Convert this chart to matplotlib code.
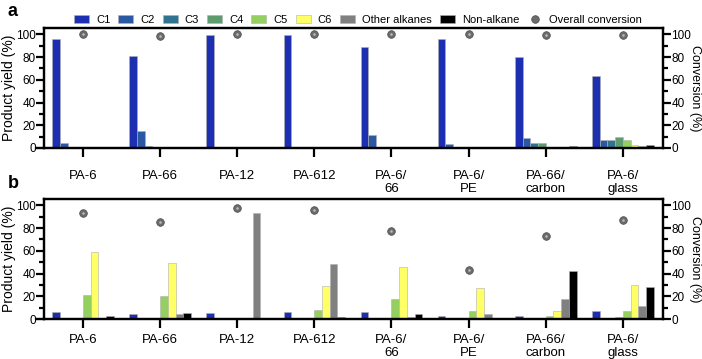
import numpy as np
import matplotlib
matplotlib.use('Agg')
import matplotlib.pyplot as plt
from matplotlib.ticker import MultipleLocator

plt.rcParams['font.family'] = ['Liberation Sans', 'DejaVu Sans']
plt.rcParams['font.size'] = 9

samples = ['PA-6', 'PA-66', 'PA-12', 'PA-612', 'PA-6/\n66', 'PA-6/\nPE', 'PA-66/\ncarbon', 'PA-6/\nglass']
products = ['C1', 'C2', 'C3', 'C4', 'C5', 'C6', 'Other alkanes', 'Non-alkane']
colors = ['#1b2fb0', '#2b58a3', '#2f7390', '#5e9c70', '#93d05f', '#ffff66', '#808080', '#000000']

# panel a: yields per product for each sample
a_c1 = [96, 81, 99, 99, 89, 96, 80, 63]
a_c2 = [4, 15, 0, 0, 11, 3.5, 9, 7]
a_c3 = [0, 2, 0, 0, 0, 0, 4, 7]
a_c4 = [0, 0, 0, 0, 0, 0, 4, 10]
a_c5 = [0, 0, 0, 0, 0, 0, 0, 7]
a_c6 = [0, 0, 0, 0, 0, 0, 0, 3]
a_other = [0, 0, 0, 0, 0, 0, 1, 1.5]
a_non = [0, 0, 0, 0, 0, 0, 1.5, 3]
a_conv = [100, 98.5, 100, 100, 100, 100, 99.5, 99.5]

# panel b
b_c1 = [6, 4, 5, 6, 6, 3, 3, 7]
b_c2 = [0, 0, 0, 0, 0, 0, 0, 0]
b_c3 = [0, 0, 0, 0, 0, 0, 0, 0]
b_c4 = [0, 0, 0, 0, 0, 0, 0, 2]
b_c5 = [21, 20, 0, 8, 18, 7, 3, 7]
b_c6 = [59, 49, 0, 29, 46, 27, 7, 30]
b_other = [0, 4, 93, 48, 2, 4, 18, 11]
b_non = [3, 5, 0, 2, 4, 0, 42, 28]
b_conv = [93, 85, 98, 96, 77, 43, 73, 87]

panel_a = [a_c1, a_c2, a_c3, a_c4, a_c5, a_c6, a_other, a_non]
panel_b = [b_c1, b_c2, b_c3, b_c4, b_c5, b_c6, b_other, b_non]

fig = plt.figure(figsize=(7.02, 3.59), dpi=100)
W, H = 702, 359
LW = 1.6


def make_axes(top, bottom):
    return fig.add_axes([44 / W, 1 - bottom / H, (663 - 44) / W, (bottom - top) / H])


def style_y(ax):
    ax.set_ylim(0, 105.5)
    ax.yaxis.set_major_locator(MultipleLocator(20))
    ax.yaxis.set_minor_locator(MultipleLocator(10))
    ax.tick_params(axis='y', which='major', width=LW, length=5.5, pad=0.5, labelsize=8.5)
    ax.tick_params(axis='y', which='minor', width=LW, length=3.5)
    for s in ax.spines.values():
        s.set_linewidth(LW)


def draw_panel(ax, yields, conv, xpad):
    x = np.arange(len(samples))
    w = 0.1
    for i, (vals, c) in enumerate(zip(yields, colors)):
        ax.bar(x + (i - 3.5) * w, vals, w, color=c, edgecolor='#b0b0b0', linewidth=0.4,
               label=products[i])
    ax.set_xlim(-0.505, 7.52)
    ax.set_xticks(x)
    ax.set_xticklabels(samples, linespacing=1.2, fontsize=9.5)
    ax.tick_params(axis='x', width=LW, length=6.5, pad=xpad)
    style_y(ax)
    ax.set_ylabel('Product yield (%)', fontsize=10)
    ax.yaxis.set_label_coords(-0.046, 0.5)
    # x-axis line runs a little past the left spine
    ax.axhline(0, xmin=-0.013, xmax=0, color='k', lw=LW, clip_on=False)

    ax2 = ax.twinx()
    style_y(ax2)
    ax2.set_ylabel('Conversion (%)', rotation=270, fontsize=9)
    ax2.yaxis.set_label_coords(1.062, 0.5)
    ax2.plot(x, conv, 'o', ms=5.5, color='#6c6c6c', mec='#4a4a4a', mew=0.5,
             label='Overall conversion')
    ax2.plot(x, conv, 'o', ms=1.8, color='#bdbdbd', mew=0)
    return ax2


ax_a = make_axes(28, 148)
ax_a2 = draw_panel(ax_a, panel_a, a_conv, 9)
ax_b = make_axes(199, 319)
draw_panel(ax_b, panel_b, b_conv, 4)

fig.text(8 / W, 1 - 12 / H, 'a', fontsize=13, fontweight='bold', va='center')
fig.text(8 / W, 1 - 183 / H, 'b', fontsize=13, fontweight='bold', va='center')

h1, l1 = ax_a.get_legend_handles_labels()
h2, l2 = ax_a2.get_legend_handles_labels()
fig.legend(h1 + h2[:1], l1 + l2[:1], loc='center', bbox_to_anchor=(358 / W, 1 - 20 / H),
           ncol=9, frameon=False, handlelength=1.35, handleheight=0.65, handletextpad=0.65,
           columnspacing=0.7, borderpad=0, fontsize=8)

fig.savefig('out.png', dpi=100)
